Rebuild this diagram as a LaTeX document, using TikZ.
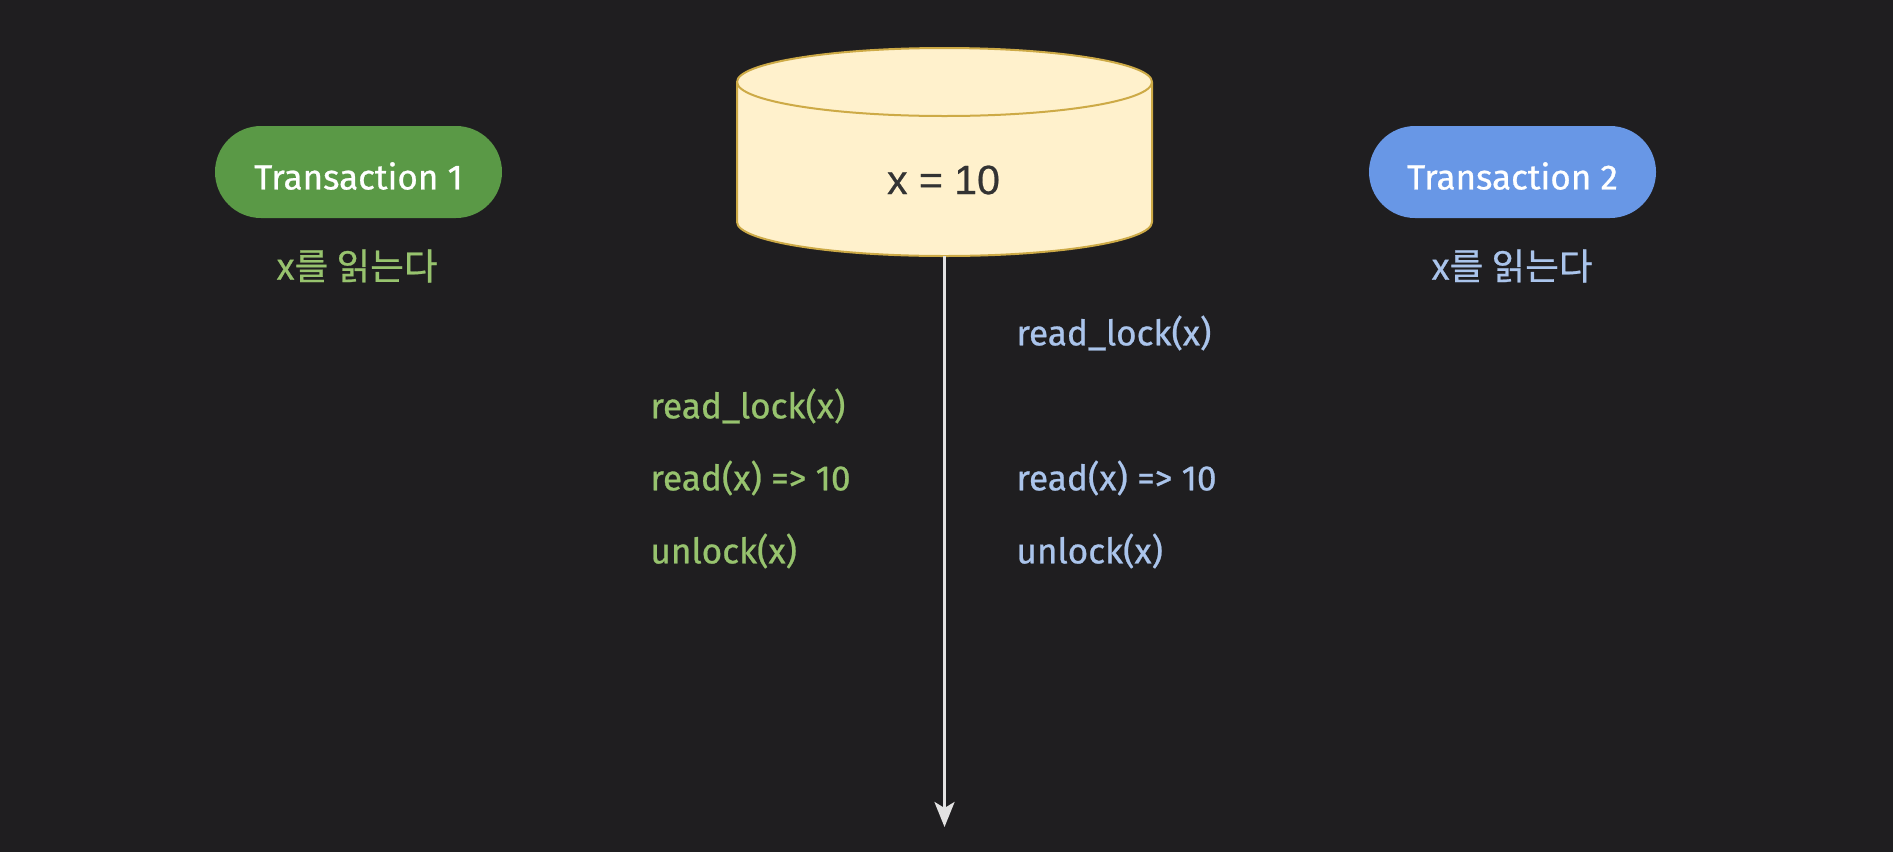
\documentclass[tikz,border=0pt]{standalone}
\usepackage{fontspec}
\setmainfont{Fira Sans}[FakeBold=0.7]
\newfontfamily\krfont{Noto Sans CJK KR}[FakeBold=0.7]
\newfontfamily\dbfont{Liberation Sans}[FakeBold=0.6]
\usetikzlibrary{arrows.meta}

\definecolor{bg}{RGB}{31,30,32}
\definecolor{tgreen}{RGB}{90,153,70}
\definecolor{tblue}{RGB}{104,151,230}
\definecolor{opgreen}{RGB}{151,195,110}
\definecolor{opblue}{RGB}{170,196,235}
\definecolor{dbfill}{RGB}{255,241,204}
\definecolor{dbline}{RGB}{205,170,70}
\definecolor{dbtext}{RGB}{51,51,51}
\definecolor{axis}{RGB}{226,226,226}

\tikzset{
  txpill/.style={rounded corners=23pt, minimum width=143.5pt, minimum height=46pt,
    inner sep=0pt, text=white, font=\fontsize{17.5}{20}\selectfont},
  txlabel/.style={text=white, inner sep=0pt, font=\fontsize{17.5}{20}\selectfont},
  txnote/.style={font=\krfont\fontsize{18.3}{22}\selectfont},
  opline/.style={anchor=west, inner sep=0pt, font=\fontsize{17.6}{21}\selectfont},
  timeline/.style={draw=axis, line width=1.5pt, -{Stealth[length=12.5pt,width=10pt,inset=3pt]}},
}

\begin{document}
\begin{tikzpicture}[x=0.5pt, y=-0.5pt]
  \useasboundingbox[fill=bg] (0,0) rectangle (1893,852);

  % transactions
  \node[txpill, fill=tgreen] (t1) at (358.5,172) {};
  \node[txlabel] (t1name) at (358.5,176) {Transaction 1};
  \node[txnote, text=opgreen] (t1note) at (357,266) {x를 읽는다};
  \node[txpill, fill=tblue] (t2) at (1512.5,172) {};
  \node[txlabel] (t2name) at (1512.5,176) {Transaction 2};
  \node[txnote, text=opblue] (t2note) at (1512,266) {x를 읽는다};

  % database cylinder
  \path[fill=dbfill, draw=dbline, line width=1pt]
    (737,82) -- (737,222)
    arc[start angle=180, end angle=360, x radius=103.75pt, y radius=17pt]
    -- (1152,82)
    arc[start angle=0, end angle=180, x radius=103.75pt, y radius=17pt]
    -- cycle;
  \draw[dbline, line width=1pt] (737,82)
    arc[start angle=180, end angle=360, x radius=103.75pt, y radius=17pt];
  \node[text=dbtext, font=\dbfont\fontsize{20.5}{24}\selectfont] (db) at (943.5,180) {x = 10};

  % time axis
  \coordinate (dbbase) at (944.5,256);
  \coordinate (tend) at (944.5,827);
  \draw[timeline] (dbbase) -- (tend);

  % operations of transaction 1
  \node[opline, text=opgreen] (a1) at (650,406) {read\_lock(x)};
  \node[opline, text=opgreen] (a2) at (650,478) {read(x) => 10};
  \node[opline, text=opgreen] (a3) at (650,551) {unlock(x)};

  % operations of transaction 2
  \node[opline, text=opblue] (b1) at (1016,333) {read\_lock(x)};
  \node[opline, text=opblue] (b2) at (1016,478) {read(x) => 10};
  \node[opline, text=opblue] (b3) at (1016,551) {unlock(x)};
\end{tikzpicture}
\end{document}
